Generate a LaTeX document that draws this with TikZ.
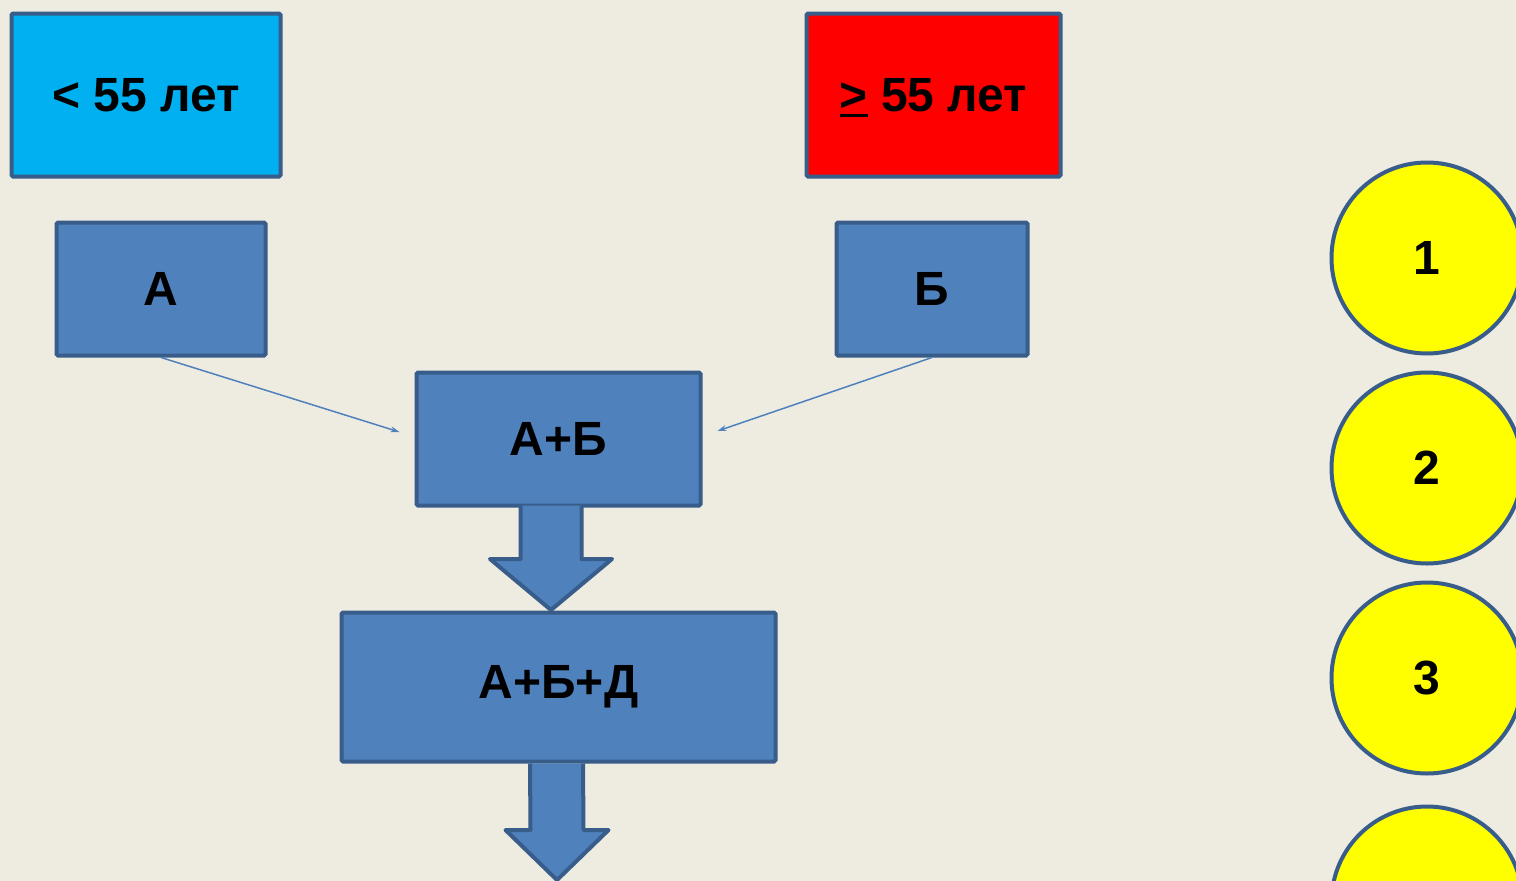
\documentclass[tikz,border=0pt]{standalone}
\usepackage{fontspec}
\setmainfont{Liberation Sans}
\usetikzlibrary{calc,arrows.meta}
\definecolor{bg}{HTML}{EEECE1}
\definecolor{boxfill}{HTML}{4F81BD}
\definecolor{boxline}{HTML}{385D8A}
\definecolor{cyanfill}{HTML}{00B0F0}
\definecolor{ballfill}{HTML}{FFFF00}
% greater-than with a heavy underline that does not alter the line's depth
\newcommand{\geqmark}{\setbox0\hbox{>}\rlap{\smash{\rule[-0.12em]{\wd0}{0.07em}}}\box0}
\tikzset{
  base/.style={draw=boxline, line width=4pt, rounded corners=1.5pt,
    inner sep=0pt, font=\fontsize{48}{52}\selectfont\bfseries, text=black},
  bluebox/.style={base, fill=boxfill},
  agebox/.style={base},
  ball/.style={circle, draw=boxline, line width=4pt, fill=ballfill,
    minimum size=191pt, inner sep=0pt, font=\fontsize{48}{52}\selectfont\bfseries},
  thin/.style={draw=boxfill, line width=1.5pt, -{Stealth[length=9pt,width=6pt]}},
  block/.style={draw=boxline, line width=4pt, fill=boxfill, line join=round}
}
\begin{document}
\begin{tikzpicture}[x=1pt, y=-1pt]
  \fill[bg] (0,0) rectangle (1516,881);
  \clip (0,0) rectangle (1516,881);

  % age groups
  \node[agebox, fill=cyanfill, minimum width=269pt, minimum height=163pt] (young) at (146,95) {< 55 лет};
  \node[agebox, fill=red, minimum width=254pt, minimum height=163pt] (old) at (933.5,95) {\geqmark{} 55 лет};

  % groups and merges
  \node[bluebox, minimum width=209pt, minimum height=133pt] (a) at (161,289) {А};
  \node[bluebox, minimum width=191pt, minimum height=133pt] (b) at (932,289) {Б};
  \node[bluebox, minimum width=284pt, minimum height=133pt] (ab) at (558.5,439) {А+Б};

  % block arrow between the merge boxes (drawn beneath the lower box)
  \coordinate (t1) at ($(ab.south)+(-7.5,0)$);
  \coordinate (p1) at (551,610);
  \draw[block] ($(t1)+(-30.5,-2)$) -- ($(p1)+(-30.5,-51)$) -- ($(p1)+(-61,-51)$) -- (p1)
    -- ($(p1)+(61,-51)$) -- ($(p1)+(30.5,-51)$) -- ($(t1)+(30.5,-2)$);

  \node[bluebox, minimum width=434pt, minimum height=149pt] (abd) at (558.5,687) {А+Б+Д};

  % outgoing block arrow
  \coordinate (t2) at ($(abd.south)+(-2,0)$);
  \coordinate (p2) at (557,880);
  \draw[block] ($(t2)+(-26.5,0)$) -- ($(p2)+(-26.5,-50)$) -- ($(p2)+(-51.5,-50)$) -- (p2)
    -- ($(p2)+(51.5,-50)$) -- ($(p2)+(26.5,-50)$) -- ($(t2)+(26.5,0)$);

  % thin connectors into the first merge
  \coordinate (ina) at ($(ab.west)+(-15,-7)$);
  \coordinate (inb) at ($(ab.east)+(15,-8)$);
  \draw[thin] (a.south) -- (ina);
  \draw[thin] (b.south) -- (inb);

  % numbered circles
  \node[ball] (c1) at (1427,258) {1};
  \node[ball] (c2) at (1427,468) {2};
  \node[ball] (c3) at (1427,678) {3};
  \node[ball] (c4) at (1427,902) {};
\end{tikzpicture}
\end{document}
